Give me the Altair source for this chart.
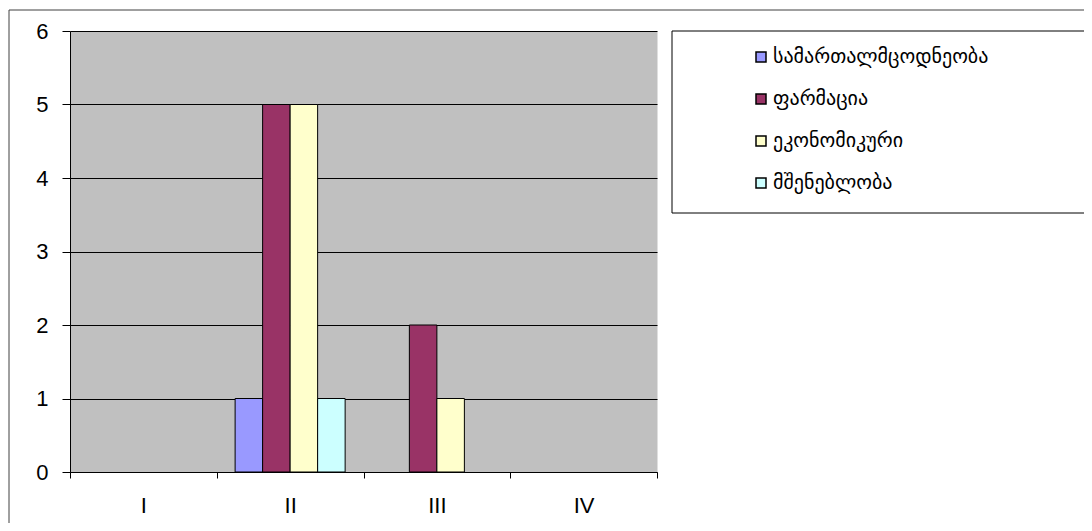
import altair as alt
import pandas as pd

categories = ["I", "II", "III", "IV"]
series = ["სამართალმცოდნეობა", "ფარმაცია", "ეკონომიკური", "მშენებლობა"]
colors = ["#9999FF", "#993366", "#FFFFCC", "#CCFFFF"]
vals_law = [0, 1, 0, 0]
vals_pharm = [0, 5, 2, 0]
vals_econ = [0, 5, 1, 0]
vals_build = [0, 1, 0, 0]

rows = []
for s, vals in zip(series, [vals_law, vals_pharm, vals_econ, vals_build]):
    for c, v in zip(categories, vals):
        rows.append({"cat": c, "series": s, "value": v})
df = pd.DataFrame(rows)

FONT = "Liberation Sans"

bars = alt.Chart(df).mark_bar(stroke="black", strokeWidth=1).encode(
    x=alt.X("cat:N", sort=categories, title=None,
            scale=alt.Scale(domain=categories, paddingInner=0, paddingOuter=0),
            axis=alt.Axis(labelAngle=0, tickBand="extent", tickSize=6, tickColor="black",
                          domainColor="black", labelFontSize=22, labelPadding=17,
                          labelFont=FONT, labelColor="black", grid=False)),
    xOffset=alt.XOffset("series:N", sort=series,
                        scale=alt.Scale(domain=series, paddingInner=0, paddingOuter=0.668)),
    y=alt.Y("value:Q", title=None,
            scale=alt.Scale(domain=[0, 6], nice=False),
            axis=alt.Axis(values=[0, 1, 2, 3, 4, 5, 6], tickSize=8, tickColor="black",
                          domainColor="black", labelFontSize=22, labelPadding=14,
                          labelFont=FONT, labelColor="black",
                          grid=True, gridColor="black", gridOpacity=1, gridWidth=1)),
    color=alt.Color("series:N", sort=series,
                    scale=alt.Scale(domain=series, range=colors),
                    legend=alt.Legend(title=None, orient="none", legendX=681, legendY=16,
                                      symbolType="square", symbolSize=100,
                                      symbolStrokeColor="black", symbolStrokeWidth=1.5,
                                      symbolOpacity=1, labelLimit=400, labelOffset=2,
                                      labelFontSize=20, labelFont="DejaVu Sans",
                                      labelColor="black", rowPadding=22, zindex=2)),
).transform_filter(alt.datum.value > 0)

one = pd.DataFrame({"a": [0]})
legend_box = alt.Chart(one).mark_rect(fill="white", stroke="black", strokeWidth=1).encode(
    x=alt.value(602), x2=alt.value(1017), y=alt.value(0), y2=alt.value(182)
)
frame_left = alt.Chart(one).mark_rule(color="#404040", strokeWidth=1).encode(
    x=alt.value(-61), y=alt.value(-21), y2=alt.value(500)
)
frame_top = alt.Chart(one).mark_rule(color="#404040", strokeWidth=1).encode(
    x=alt.value(-61), x2=alt.value(1100), y=alt.value(-21)
)

chart = alt.layer(legend_box, frame_left, frame_top, bars).properties(
    width=587, height=441,
    padding={"left": 62, "top": 23, "right": 427, "bottom": 51},
    autosize=alt.AutoSizeParams(type="none"),
    background="white",
).configure_view(fill="#C0C0C0", stroke="transparent")

chart.save("out.html", embed_options={"renderer": "svg", "actions": False})
